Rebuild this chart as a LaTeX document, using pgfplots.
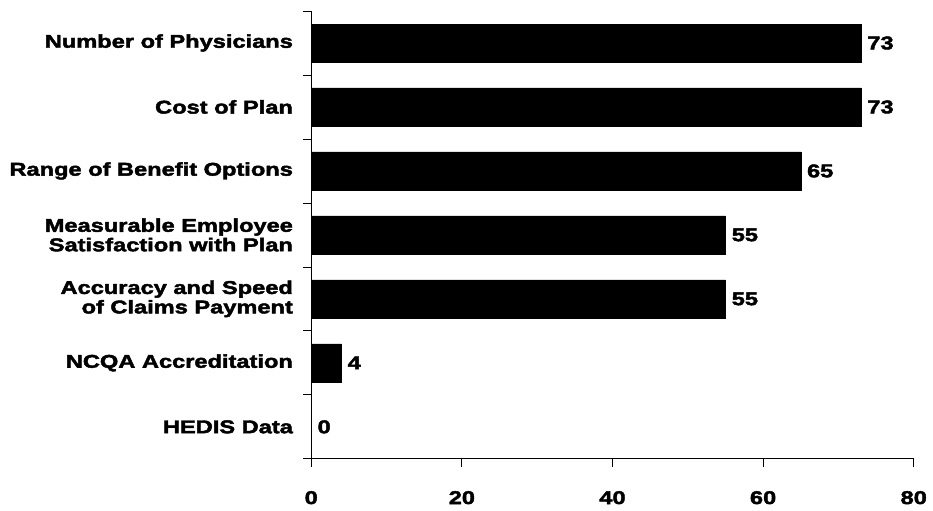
\documentclass[border=0pt]{standalone}
\usepackage{fontspec}
\setmainfont{Liberation Sans}[BoldFeatures={FakeStretch=1.28,FakeBold=2.4}]
\usepackage{pgfplots}
\pgfplotsset{compat=1.18}
\newcommand{\lblfont}{\fontsize{18.5pt}{19.5pt}\selectfont\bfseries}
\begin{document}
\lblfont
\begin{tikzpicture}[x=1pt,y=1pt]
\path (-312pt,-50pt) rectangle (621pt,460pt);
\begin{axis}[
  at={(0pt,0pt)}, anchor=south west,
  scale only axis, width=604pt, height=449pt,
  xbar, bar width=38pt,
  xmin=0, xmax=80, ymin=-0.5, ymax=6.5,
  axis x line*=bottom, axis y line*=left,
  axis line style={-, line width=0.8pt, black},
  xtick={0,20,40,60,80},
  ytick={-0.5,0.5,1.5,2.5,3.5,4.5,5.5,6.5},
  yticklabels={},
  extra y ticks={0,...,6},
  extra y tick labels={HEDIS Data, NCQA Accreditation, Accuracy and Speed\\of Claims Payment, Measurable Employee\\Satisfaction with Plan, Range of Benefit Options, Cost of Plan, Number of Physicians},
  extra y tick style={major tick length=0pt, tick style={draw=none}},
  yticklabel style={align=right, font=\lblfont, xshift=-12pt},
  xticklabel style={font=\lblfont, yshift=-18pt},
  /pgf/number format/assume math mode=true,
  tick align=outside, major tick length=8pt,
  tick style={draw=black, line width=0.8pt},
  nodes near coords,
  nodes near coords style={font=\lblfont, anchor=west, xshift=0pt},
  clip=false,
]
\addplot[fill=black, draw=black] coordinates {
  (0,0) (4,1) (55,2) (55,3) (65,4) (73,5) (73,6)
};
\end{axis}
\end{tikzpicture}
\end{document}
